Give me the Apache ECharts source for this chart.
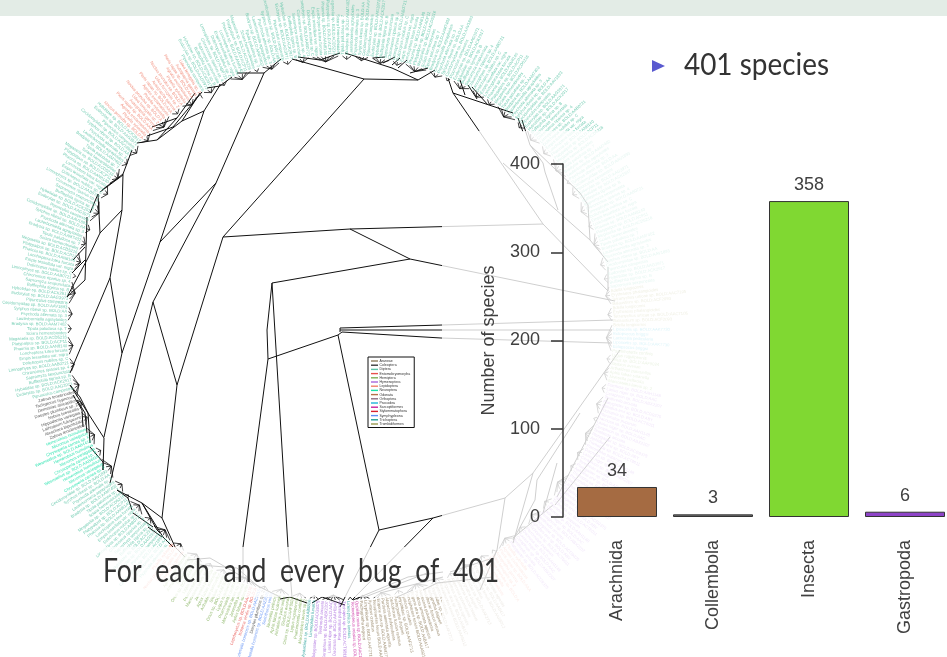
<!DOCTYPE html>
<html>
<head>
<meta charset="utf-8">
<title>401 species</title>
<style>
  html, body { margin: 0; padding: 0; background: #fff; }
  #main { width: 947px; height: 657px; }
</style>
<script src="https://cdn.jsdelivr.net/npm/echarts@6/dist/echarts.min.js"></script>
</head>
<body>
<div id="main"></div>
<script>
// bar chart: species per class
const classNames = ['Arachnida', 'Collembola', 'Insecta', 'Gastropoda']
const classCounts = [34, 3, 358, 6]
const classColors = ['#a56b42', '#6e6e6e', '#80d832', '#8e44c8']
const yTicks = [0, 100, 200, 300, 400]

// tree legend
const orderNames = ['Araneae', 'Coleoptera', 'Diptera', 'Entomobryomorpha', 'Hemiptera', 'Hymenoptera',
  'Lepidoptera', 'Neuroptera', 'Odonata', 'Orthoptera', 'Psocodea', 'Sarcoptiformes', 'Stylommatophora',
  'Symphypleona', 'Trichoptera', 'Trombidiformes']
const orderColors = ['#8f7d5c', '#3a3a3a', '#5cc4a6', '#e8504c', '#7fae55', '#a765dc', '#f0806c', '#18e0a8',
  '#b5704a', '#8c6a80', '#1fb4d8', '#c8209c', '#d8202c', '#5f8ff5', '#1f9c96', '#9a9a50']

// runs of tips clockwise round the rim, starting at the top left
const runOrders = ['Diptera', 'Trombidiformes', 'Psocodea', 'Hemiptera', 'Hymenoptera', 'Lepidoptera', 'Araneae',
  'Sarcoptiformes', 'Trichoptera', 'Hymenoptera', 'Trichoptera', 'Hemiptera', 'Symphypleona', 'Coleoptera',
  'Symphypleona', 'Entomobryomorpha', 'Hemiptera', 'Lepidoptera', 'Diptera', 'Neuroptera', 'Coleoptera',
  'Diptera', 'Lepidoptera']
const runCounts = [125, 9, 5, 8, 45, 8, 30, 2, 1, 7, 2, 8, 2, 1, 1, 2, 17, 4, 23, 11, 9, 63, 18]

// names used for the tip labels, per order
const tipNames = {
  Araneae: ['Pardosa amentata agrestis', 'Erigone atra sp. BOLD:AAB417', 'Tenuiphantes tenuis BOLD:AAA5012', 'Xysticus cristatus', 'Linyphiidae sp. BOLD:AAF2713', 'Pachygnatha degeeri', 'Oedothorax fuscus retusus', 'Alopecosa pulverulenta'],
  Coleoptera: ['Aleochara bipustulata', 'Lathrobium fulvipenne', 'Hippodamia variegata', 'Nebria brevicollis', 'Dasytes plumbeus sp. 2', 'Demetrias atricapillus', 'Tachyporus hypnorum', 'Zabrus tenebrioides'],
  Diptera: ['Pipunculus campestris', 'Eudorylas sp. BOLD:AAG3971', 'Hybotidae sp. BOLD:ACK2917', 'Bufflephila tigrina sp. B', 'Sapromyza sexpunctata', 'Chironomus riparius sp. 4', 'Limnophyes sp. BOLD:AAB0721', 'Dolichopus nubilus sp. C', 'Empis tessellata var. nigra', 'Lonchoptera lutea furcata', 'Phaonia sp. BOLD:AAN8140', 'Platypalpus sp. BOLD:ACP11', 'Megaselia sp. BOLD:ACD5216', 'Sciara hemerobioides', 'Tipula paludosa sp. 7', 'Bradysia sp. BOLD:AAM7402', 'Lauterborniella agrayloides', 'Psychoda alternata sp. 3', 'Syrphus ribesii sp. BOLD:AA', 'Cecidomyiidae sp. BOLD:AAV1893'],
  Entomobryomorpha: ['Isotoma viridis sp. BOLD:A', 'Lepidocyrtus sp. BOLD:AAA1176'],
  Hemiptera: ['Aphis fabae solanella', 'Javesella pellucida', 'Macrosteles laevis sp. 2', 'Psammotettix confinis', 'Lygus rugulipennis', 'Orius sp. BOLD:AAF9024', 'Sitobion avenae', 'Arthaldeus pascuellus'],
  Hymenoptera: ['Aphidius ervi sp. BOLD:ABY', 'Trichopria sp. BOLD:ACT6011', 'Pteromalus puparum', 'Dacnusa sp. BOLD:AAH1148', 'Lasius niger sp. BOLD:AAC', 'Ceraphron sp. BOLD:ABX2207', 'Tenthredo arcuata', 'Platygaster sp. BOLD:ACG9375'],
  Lepidoptera: ['Plutella xylostella', 'Agrotis exclamationis', 'Pieris rapae sp. BOLD:AAA', 'Autographa gamma', 'Udea ferrugalis sp. 2', 'Noctua pronuba sp. BOLD:A'],
  Neuroptera: ['Chrysoperla carnea sp. F', 'Micromus variegatus', 'Hemerobius humulinus', 'Wesmaelius sp. BOLD:AAB4416'],
  Psocodea: ['Ectopsocus briggsi', 'Lachesilla pedicularia', 'Liposcelis sp. BOLD:AAK7730'],
  Sarcoptiformes: ['Oppiella nova sp. BOLD:AAC1177', 'Tectocepheus velatus sp. BOLD:ACB6401'],
  Symphypleona: ['Sminthurus viridis', 'Bourletiella hortensis sp. BOLD:AAZ3015'],
  Trichoptera: ['Limnephilus lunatus', 'Mystacides sp. BOLD:AAB8806'],
  Trombidiformes: ['Balaustium sp. BOLD:ACF2093', 'Bdella longicornis', 'Erythraeus phalangioides', 'Tetranychus urticae sp. BOLD:AAC7105']
}

// how many neighbouring tips share a parent, clockwise from the same start
const cladeSizes = [4, 3, 6, 2, 5, 3, 4, 7, 3, 4, 5, 3, 6, 4, 2, 5, 4, 3, 6, 3, 5, 4, 6, 2, 4, 5, 3, 6, 4, 3,
  5, 4, 7, 3, 4, 3, 5, 2, 6, 4, 3, 7, 4, 5, 3, 6, 2, 4, 5, 3, 4, 6, 3, 5, 4, 2, 6, 3, 4, 5, 3, 7, 4, 3, 5, 4,
  6, 3, 5, 2, 4, 6, 3, 5, 4, 3, 6, 4, 5, 3, 4, 6, 2, 5, 4, 3, 6, 4, 5, 3, 4, 4, 6, 3, 5, 5]

// deeper branches of the tree: from x, from y, to x, to y
const treeBranches = [
  [223, 237, 364, 79], [223, 237, 350, 229], [350, 229, 543, 224], [350, 229, 410, 259],
  [410, 259, 272, 283], [410, 259, 615, 301], [223, 237, 177, 385], [177, 385, 153, 302],
  [153, 302, 216, 183], [153, 302, 112, 475], [177, 385, 162, 518], [162, 518, 175, 547],
  [162, 518, 142, 503], [142, 503, 117, 490], [216, 183, 264, 73], [264, 73, 237, 73],
  [264, 73, 281, 59], [216, 183, 160, 242], [160, 242, 122, 353], [122, 353, 104, 437],
  [122, 353, 110, 278], [110, 278, 122, 210], [110, 278, 70, 373], [122, 210, 123, 174],
  [122, 210, 100, 233], [123, 174, 102, 190], [123, 174, 132, 150], [100, 233, 98, 194],
  [100, 233, 88, 258], [88, 258, 67, 297], [87, 217, 85, 280], [85, 280, 67, 297],
  [73, 260, 85, 247], [72, 273, 85, 260], [98, 194, 90, 213], [160, 242, 204, 111],
  [204, 111, 182, 121], [204, 111, 220, 85], [182, 121, 200, 93], [182, 121, 157, 140],
  [157, 140, 137, 143], [157, 140, 177, 118], [177, 118, 195, 93], [177, 118, 152, 127],
  [147, 136, 173, 127], [173, 127, 202, 92], [207, 88, 220, 86], [220, 86, 232, 77],
  [100, 192, 123, 175], [364, 79, 418, 80], [364, 79, 292, 59], [418, 80, 392, 68],
  [392, 68, 345, 53], [418, 80, 435, 70], [320, 60, 340, 53], [298, 57, 320, 60],
  [373, 58, 385, 57], [383, 63, 395, 57], [392, 65, 400, 58], [398, 68, 407, 60],
  [410, 73, 428, 68], [448, 78, 453, 93], [453, 93, 513, 113], [453, 93, 543, 224],
  [543, 224, 608, 291], [460, 80, 465, 95], [468, 85, 477, 99], [472, 87, 488, 105],
  [518, 118, 523, 132], [522, 120, 530, 145], [530, 145, 543, 163], [545, 172, 558, 210],
  [543, 163, 545, 172], [530, 145, 580, 193], [503, 163, 590, 240], [590, 240, 608, 262],
  [580, 193, 588, 205], [588, 205, 590, 240], [608, 291, 608, 267], [340, 328, 613, 320],
  [340, 330, 612, 330], [342, 332, 441, 338], [441, 338, 612, 343], [340, 328, 340, 332],
  [272, 283, 267, 330], [267, 330, 268, 359], [268, 359, 243, 547], [243, 547, 243, 577],
  [272, 283, 288, 547], [288, 547, 292, 597], [268, 359, 338, 335], [338, 335, 342, 332],
  [338, 335, 379, 530], [379, 530, 433, 518], [433, 518, 505, 498], [379, 530, 340, 607],
  [433, 518, 352, 600], [505, 498, 533, 473], [505, 498, 497, 550], [497, 550, 480, 590],
  [533, 473, 513, 543], [533, 473, 620, 350], [537, 480, 580, 413], [537, 480, 535, 500],
  [535, 500, 513, 540], [543, 513, 557, 463], [557, 497, 608, 398], [555, 505, 610, 437],
  [513, 538, 553, 505], [70, 385, 80, 397], [80, 397, 88, 413], [88, 413, 90, 443],
  [70, 385, 104, 438], [104, 438, 103, 470], [112, 475, 110, 483], [77, 400, 85, 413],
  [85, 413, 87, 433], [73, 395, 82, 410], [82, 410, 83, 427], [90, 447, 103, 462],
  [103, 462, 103, 470], [117, 490, 128, 498], [128, 498, 132, 510], [133, 513, 143, 520],
  [143, 520, 153, 527], [142, 503, 157, 530], [157, 530, 160, 533], [148, 527, 162, 537],
  [163, 537, 173, 547], [142, 503, 163, 537], [175, 547, 185, 557], [187, 560, 210, 558],
  [210, 558, 260, 587], [260, 587, 280, 597], [200, 565, 237, 568], [237, 568, 260, 588],
  [280, 599, 290, 597], [290, 597, 307, 603], [312, 603, 322, 597], [322, 597, 345, 605],
  [353, 600, 408, 577], [408, 577, 443, 572], [365, 597, 427, 573], [380, 593, 420, 583],
  [420, 583, 443, 577], [397, 597, 413, 590], [423, 590, 437, 583], [437, 583, 493, 577],
  [497, 550, 493, 558], [493, 558, 450, 572]
]

const myChart = echarts.init(document.getElementById('main'))

// lay the tips out evenly round the rim
const tipStep = 360 / 401
const tips = []
runOrders.forEach((order, r) => {
  for (let i = 0; i < runCounts[r]; i++) {
    const names = tipNames[order]
    tips.push({ order, angle: (330 + tips.length * tipStep) % 360, name: names[tips.length % names.length] })
  }
})

// short forks from each clade's parent to its tips
const forks = []
let tipAt = 0
cladeSizes.forEach((size) => {
  const end = Math.min(tipAt + size, tips.length)
  if (end <= tipAt) return
  const mid = 330 + (tipAt + end - 1) / 2 * tipStep
  const depth = 0.006 + 0.002 * size
  for (let i = tipAt; i < end; i++) {
    forks.push([1 - depth, mid % 360, 1, tips[i].angle])
  }
  tipAt = end
})

function renderBranch(params, api) {
  const a = api.coord([api.value(0), api.value(1)])
  const b = api.coord([api.value(2), api.value(3)])
  return { type: 'line', shape: { x1: a[0], y1: a[1], x2: b[0], y2: b[1] }, style: { stroke: '#111', lineWidth: 1 } }
}

function tipSeries(order, k) {
  const own = tips.filter((t) => t.order === order)
  return {
    name: order,
    type: 'custom',
    coordinateSystem: 'polar',
    z: 2,
    silent: true,
    itemStyle: { color: orderColors[k] },
    encode: { radius: 0, angle: 1 },
    data: own.map((t) => [1.005, t.angle]),
    renderItem: (params, api) => {
      const t = own[params.dataIndex]
      const p = api.coord([api.value(0), api.value(1)])
      const left = t.angle > 180
      const rot = ((left ? 270 : 90) - t.angle) * Math.PI / 180
      return {
        type: 'text',
        x: p[0],
        y: p[1],
        rotation: rot,
        style: {
          text: t.name,
          fill: orderColors[k],
          font: '4.2px "Liberation Sans"',
          align: left ? 'right' : 'left',
          verticalAlign: 'middle',
          opacity: 0.85,
          shadowBlur: 1.5,
          shadowColor: orderColors[k]
        }
      }
    }
  }
}

const option = {
  backgroundColor: '#fff',
  animation: false,
  grid: [
    { left: 569, top: 164, width: 384, height: 353, outerBoundsMode: 'none' },
    { left: 0, top: 0, width: 947, height: 657, outerBoundsMode: 'none' }
  ],
  xAxis: [
    {
      type: 'category',
      data: classNames,
      gridIndex: 0,
      z: 10,
      axisLine: { show: false },
      axisTick: { show: false },
      axisLabel: { rotate: 90, margin: 23, interval: 0, fontFamily: 'Liberation Sans', fontSize: 18, color: '#404040' }
    },
    { type: 'value', gridIndex: 1, min: 0, max: 947, show: false }
  ],
  yAxis: [
    {
      type: 'value',
      gridIndex: 0,
      z: 10,
      min: 0,
      max: yTicks[yTicks.length - 1],
      interval: 100,
      offset: 6,
      name: 'Number of species',
      nameLocation: 'middle',
      nameGap: 65,
      nameRotate: 90,
      nameTextStyle: { fontFamily: 'Liberation Sans', fontSize: 18, color: '#404040' },
      splitLine: { show: false },
      axisLine: { show: true, lineStyle: { color: '#333', width: 1.5 } },
      axisTick: { show: true, length: 12, lineStyle: { color: '#333', width: 1.5 } },
      axisLabel: { margin: 23, fontFamily: 'Liberation Sans', fontSize: 18, color: '#404040' }
    },
    { type: 'value', gridIndex: 1, min: 0, max: 657, inverse: true, show: false }
  ],
  polar: { center: [340, 328], radius: 272 },
  angleAxis: { type: 'value', min: 0, max: 360, startAngle: 90, clockwise: true, show: false },
  radiusAxis: { type: 'value', min: 0, max: 1, show: false },
  legend: {
    data: orderNames,
    left: 368,
    top: 357,
    orient: 'vertical',
    icon: 'rect',
    itemWidth: 7,
    itemHeight: 1.4,
    itemGap: 0.2,
    selectedMode: false,
    padding: [2, 4, 1.5, 3],
    backgroundColor: '#fff',
    borderColor: '#111',
    borderWidth: 1,
    textStyle: { fontFamily: 'Liberation Sans', fontSize: 3.5, color: '#333', padding: [0, 0, 0, -3.5] }
  },
  graphic: [
    { type: 'rect', z: 0, shape: { x: 0, y: 0, width: 947, height: 16 }, style: { fill: '#e3ece6' } },
    { type: 'rect', z: 5, silent: true, shape: { x: 442, y: 131, width: 505, height: 526 }, style: { fill: 'rgba(255,255,255,0.8)' } },
    { type: 'rect', z: 5, silent: true, shape: { x: 100, y: 547, width: 342, height: 50 }, style: { fill: 'rgba(255,255,255,0.8)' } },
    { type: 'polygon', z: 11, shape: { points: [[652, 60], [665, 66], [652, 72]] }, style: { fill: '#5a5ad0' } },
    { type: 'text', z: 11, x: 684, y: 65, scaleX: 0.9, style: { text: '401 species', font: '31px Lato', fill: '#333', verticalAlign: 'middle' } },
    { type: 'text', z: 11, x: 103, y: 571, scaleX: 0.805, style: { text: 'For  each  and  every  bug  of  401', font: '33px Lato', fill: '#333', verticalAlign: 'middle' } }
  ],
  series: [
    {
      name: 'branches',
      type: 'custom',
      coordinateSystem: 'cartesian2d',
      xAxisIndex: 1,
      yAxisIndex: 1,
      z: 2,
      silent: true,
      encode: { x: [0, 2], y: [1, 3] },
      data: treeBranches,
      renderItem: renderBranch
    },
    {
      name: 'forks',
      type: 'custom',
      coordinateSystem: 'polar',
      z: 2,
      silent: true,
      encode: { radius: 0, angle: 1 },
      data: forks,
      renderItem: (params, api) => {
        const a = api.coord([api.value(0), api.value(1)])
        const b = api.coord([api.value(2), api.value(3)])
        return { type: 'line', shape: { x1: a[0], y1: a[1], x2: b[0], y2: b[1] }, style: { stroke: '#111', lineWidth: 0.8 } }
      }
    },
    ...orderNames.map(tipSeries),
    {
      name: 'species',
      type: 'bar',
      xAxisIndex: 0,
      yAxisIndex: 0,
      z: 10,
      barWidth: 80,
      data: classCounts.map((v, i) => ({
        value: v,
        itemStyle: { color: classColors[i], borderColor: '#333', borderWidth: 1 }
      })),
      label: { show: true, position: 'top', distance: 7, fontFamily: 'Liberation Sans', fontSize: 18, color: '#404040' }
    }
  ]
}

myChart.setOption(option)
window.onresize = function () {
  myChart.resize()
}
</script>
</body>
</html>
